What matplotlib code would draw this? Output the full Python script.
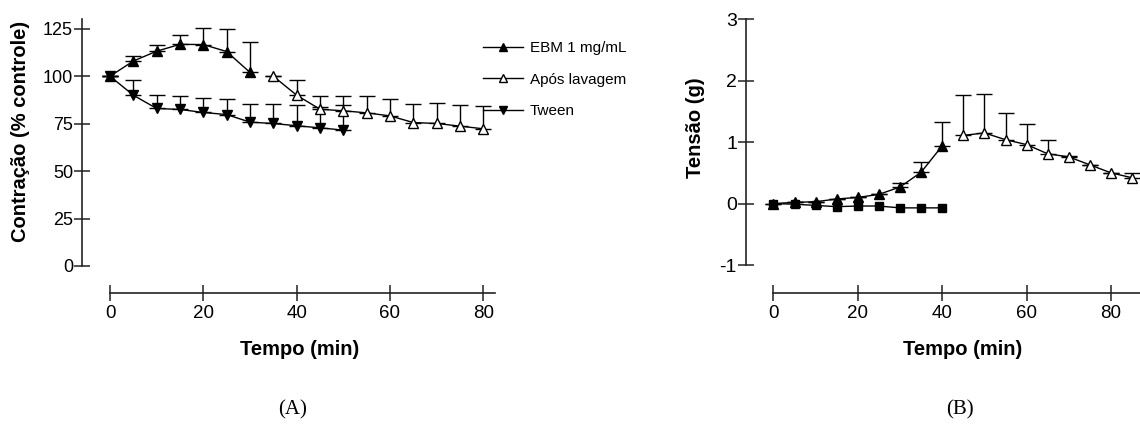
import numpy as np
import matplotlib
matplotlib.use("Agg")
import matplotlib.pyplot as plt

# ---- dados painel A (% controle) ----
t_ebm_a = [0, 5, 10, 15, 20, 25, 30]
ebm_a = [100, 108, 113.2, 116.8, 116.7, 113, 102]
ebm_a_err = [0, 2.5, 3, 5, 8.5, 12, 16]

t_lav_a = [35, 40, 45, 50, 55, 60, 65, 70, 75, 80]
lav_a = [100, 90, 82.6, 81.8, 80.7, 79.1, 75.6, 75.1, 73.7, 72.3]
lav_a_err = [0, 8, 7, 8, 9, 9, 9.7, 10.7, 11.2, 12]

t_tween_a = [0, 5, 10, 15, 20, 25, 30, 35, 40, 45, 50]
tween_a = [100, 90, 83, 82.5, 80.9, 79.8, 75.8, 75.1, 73.9, 72.8, 71.6]
tween_a_err = [0, 8, 7, 7, 7.5, 8, 9.5, 10.5, 11, 11, 13]

# ---- dados painel B (tensão, g) ----
t_ebm_b = [0, 5, 10, 15, 20, 25, 30, 35, 40]
ebm_b = [0, 0.02, 0.03, 0.075, 0.1, 0.15, 0.27, 0.51, 0.94]
ebm_b_err = [0, 0, 0, 0, 0, 0, 0.07, 0.17, 0.38]

t_lav_b = [45, 50, 55, 60, 65, 70, 75, 80, 85]
lav_b = [1.11, 1.15, 1.04, 0.96, 0.81, 0.76, 0.63, 0.50, 0.42]
lav_b_err = [0.65, 0.63, 0.44, 0.33, 0.23, 0.02, 0, 0, 0.07]

t_ctrl_b = [0, 5, 10, 15, 20, 25, 30, 35, 40]
ctrl_b = [0, -0.01, -0.03, -0.05, -0.04, -0.04, -0.07, -0.07, -0.07]

plt.rcParams['font.family'] = ['Liberation Sans', 'DejaVu Sans']
plt.rcParams['axes.unicode_minus'] = False

W, H = 1140, 430
fig = plt.figure(figsize=(W / 100, H / 100), dpi=100)

axis_col = '#222222'


def px_axes(left, right, top, bottom):
    return fig.add_axes([left / W, 1 - bottom / H, (right - left) / W, (bottom - top) / H])


def style_axes(ax, ybounds, xbounds, outward, ysize):
    for s in ['top', 'right']:
        ax.spines[s].set_visible(False)
    for s in ['left', 'bottom']:
        ax.spines[s].set_color(axis_col)
        ax.spines[s].set_linewidth(1.2)
    ax.spines['left'].set_bounds(*ybounds)
    ax.spines['bottom'].set_bounds(*xbounds)
    ax.spines['bottom'].set_position(('outward', outward))
    ax.tick_params(axis='y', direction='inout', length=11, width=1.1,
                   color=axis_col, labelsize=ysize, pad=1)
    ax.tick_params(axis='x', direction='inout', length=12, width=1.1,
                   color=axis_col, labelsize=13.5, pad=3)
    ax.patch.set_visible(False)


def upper_err(ax, x, y, err, marker, face, ms=7.5, label=None):
    return ax.errorbar(x, y, yerr=[np.zeros(len(err)), err], fmt='-', color='black',
                       marker=marker, mfc=face, mec='black', ms=ms, lw=1,
                       elinewidth=1, capsize=6, capthick=1, clip_on=False, label=label)


# ---------- painel A ----------
axA = px_axes(82, 495, 19.3, 266)
axA.set_xlim(-6, 82.5)
axA.set_ylim(0, 130)
style_axes(axA, (0, 130), (0, 82.5), 19.2, 13)
axA.set_yticks([0, 25, 50, 75, 100, 125])
axA.set_xticks([0, 20, 40, 60, 80])

c_lav = upper_err(axA, t_lav_a, lav_a, lav_a_err, '^', 'white')
c_tw = upper_err(axA, t_tween_a, tween_a, tween_a_err, 'v', 'black')
c_ebm = upper_err(axA, t_ebm_a, ebm_a, ebm_a_err, '^', 'black')

axA.legend([c_ebm.lines[0], c_lav.lines[0], c_tw.lines[0]],
           ['EBM 1 mg/mL', 'Após lavagem', 'Tween'],
           loc='upper left', bbox_to_anchor=(483 / W, 1 - 41 / H),
           bbox_transform=fig.transFigure, frameon=False, fontsize=11,
           handlelength=2.6, handletextpad=0.45, labelspacing=1.15,
           borderpad=0, borderaxespad=0, markerscale=0.7)

axA.set_ylabel('Contração (% controle)', fontsize=14.5, fontweight='bold')
axA.yaxis.set_label_coords(-0.125, 0.547)
axA.set_xlabel('Tempo (min)', fontsize=14.5, fontweight='bold')
axA.xaxis.set_label_coords(0.528, -0.300)

# ---------- painel B ----------
axB = px_axes(746, 746 + 94.5 * 4.22, 19.3, 265)
axB.set_xlim(-6.5, 88)
axB.set_ylim(-1, 3)
style_axes(axB, (-1, 3), (0, 88), 20, 14)
axB.set_yticks([-1, 0, 1, 2, 3])
axB.set_xticks([0, 20, 40, 60, 80])

upper_err(axB, t_ebm_b, ebm_b, ebm_b_err, '^', 'black')
axB.plot(t_ctrl_b, ctrl_b, '-', color='black', marker='s', ms=6, lw=1,
         mfc='black', mec='black', clip_on=False, zorder=3)
upper_err(axB, t_lav_b, lav_b, lav_b_err, '^', 'white')

axB.set_ylabel('Tensão (g)', fontsize=14.5, fontweight='bold')
axB.yaxis.set_label_coords(-0.104, 0.56)
axB.set_xlabel('Tempo (min)', fontsize=14.5, fontweight='bold')
axB.xaxis.set_label_coords(0.544, -0.305)

# rótulos dos painéis
fig.text(293 / W, 1 - 410 / H, '(A)', ha='center', va='center',
         family='Liberation Serif', fontsize=15)
fig.text(960 / W, 1 - 410 / H, '(B)', ha='center', va='center',
         family='Liberation Serif', fontsize=15)

fig.savefig('out.png', dpi=100)
